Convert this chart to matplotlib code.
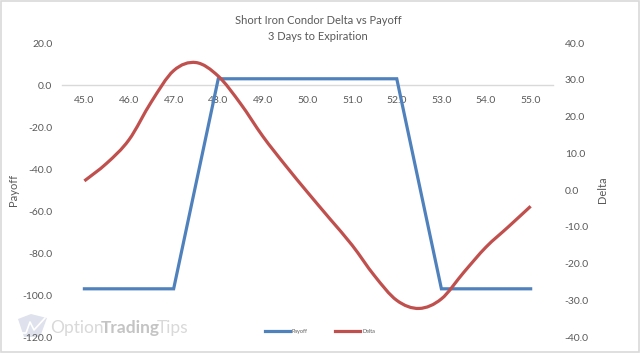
import numpy as np
import matplotlib.pyplot as plt
from matplotlib.path import Path
from matplotlib.patches import PathPatch, Rectangle, Polygon
from matplotlib.lines import Line2D

# Daten
strikes = [45.0, 46.0, 47.0, 48.0, 49.0, 50.0, 51.0, 52.0, 53.0, 54.0, 55.0]
payoff = [-97, -97, -97, 3, 3, 3, 3, 3, -97, -97, -97]

delta_x = [45.0, 45.5, 46.0, 46.5, 47.0, 47.5, 48.0, 48.5, 49.0, 49.5, 50.0,
           50.5, 51.0, 51.5, 52.0, 52.5, 53.0, 53.5, 54.0, 54.5, 55.0]
delta = [2.5, 7.3, 13.7, 24.0, 32.5, 34.7, 31.0, 23.5, 14.6, 6.8, -0.6,
         -7.8, -15.0, -23.3, -30.0, -32.2, -29.6, -22.4, -15.5, -10.0, -4.4]

tick_labels = ["45.0", "46.0", "47.0", "48.0", "49.0", "50.0",
               "51.0", "52.0", "53.0", "54.0", "55.0"]

BLUE = "#4f81bd"
RED = "#c0504d"
GREY = "#595959"
W, H = 640, 353

plt.rcParams["font.family"] = ["Lato", "DejaVu Sans"]


def smooth_path(xs, ys):
    # Excel-artige geglaettete Linie (Bezier, Catmull-Rom)
    pts = np.column_stack([xs, ys]).astype(float)
    n = len(pts)
    verts = [pts[0]]
    codes = [Path.MOVETO]
    for i in range(n - 1):
        p0 = pts[i - 1] if i > 0 else pts[i]
        p1 = pts[i]
        p2 = pts[i + 1]
        p3 = pts[i + 2] if i + 2 < n else pts[i + 1]
        c1 = p1 + (p2 - p0) / 6.0
        c2 = p2 - (p3 - p1) / 6.0
        verts += [c1, c2, p2]
        codes += [Path.CURVE4] * 3
    return Path(verts, codes)


def px(x, y):
    # Pixel (von oben links) -> Figurkoordinaten
    return (x / W, 1 - y / H)


fig = plt.figure(figsize=(6.4, 3.53), dpi=100, facecolor="white")
ax = fig.add_axes([0.097, 0.045, 0.767, 0.833])
ax2 = ax.twinx()
ax.patch.set_alpha(0)
ax2.patch.set_alpha(0)

ax.plot(strikes, payoff, color=BLUE, lw=2.3, solid_joinstyle="miter", zorder=3)
ax2.add_patch(PathPatch(smooth_path(delta_x, delta), fill=False,
                        edgecolor=RED, lw=2.3, zorder=3))

ax.set_xlim(44.5, 55.5)
ax.set_ylim(-120, 20)
ax2.set_ylim(-40, 40)
ax.set_yticks(np.arange(-120, 21, 20))
ax2.set_yticks(np.arange(-40, 41, 10))
ax.set_yticklabels([f"{v:.1f}" for v in np.arange(-120, 21, 20)])
ax2.set_yticklabels([f"{v:.1f}" for v in np.arange(-40, 41, 10)])
ax.set_xticks(strikes)
ax.set_xticklabels(tick_labels)

for a in (ax, ax2):
    for s in a.spines.values():
        s.set_visible(False)
ax.spines["bottom"].set_visible(True)
ax.spines["bottom"].set_position(("data", 0))
ax.spines["bottom"].set_color("#d9d9d9")
ax.spines["bottom"].set_linewidth(1.0)

ax.tick_params(axis="x", length=0, pad=8, labelsize=7.5, labelcolor=GREY)
ax.tick_params(axis="y", length=0, pad=7, labelsize=7.5, labelcolor=GREY)
ax2.tick_params(axis="y", length=0, pad=8.5, labelsize=7.5, labelcolor=GREY)

fig.text(0.021, 0.462, "Payoff", rotation=90, ha="center", va="center",
         fontsize=8, color=GREY)
fig.text(0.942, 0.462, "Delta", rotation=90, ha="center", va="center",
         fontsize=8, color=GREY)

fig.text(0.497, 0.943, "Short Iron Condor Delta vs Payoff", ha="center",
         va="center", fontsize=8, color=GREY)
fig.text(0.497, 0.898, "3 Days to Expiration", ha="center", va="center",
         fontsize=8, color=GREY)

# Legende
handles = [Line2D([], [], color=BLUE, lw=2.3), Line2D([], [], color=RED, lw=2.3)]
fig.legend(handles, ["Payoff", "Delta"], loc="center", ncol=2,
           bbox_to_anchor=(0.5, 0.06), frameon=False, fontsize=4,
           labelcolor=GREY, handlelength=4.5, columnspacing=5, handletextpad=0.3)

# Wasserzeichen (hinter den Achsen)
logo = Polygon([px(18, 319), px(31, 314), px(47, 318), px(40, 337), px(24, 337)],
               closed=True, transform=fig.transFigure, facecolor="#dfe2ec",
               edgecolor="none", zorder=-2)
fig.add_artist(logo)
fig.add_artist(Line2D([px(19, 0)[0], px(26, 0)[0], px(30, 0)[0], px(34, 0)[0], px(45, 0)[0]],
                      [px(0, 333)[1], px(0, 333)[1], px(0, 322)[1], px(0, 330)[1], px(0, 318)[1]],
                      transform=fig.transFigure, color="white", lw=1.2, zorder=-1))

renderer = fig.canvas.get_renderer()
x0 = 50
for part, col, wt in [("Option", "#d9d9d9", "normal"),
                      ("Trading", "#c4c4c4", "bold"),
                      ("Tips", "#d9d9d9", "normal")]:
    t = fig.text(*px(x0, 333), part, ha="left", va="baseline", fontsize=12.5,
                 color=col, fontweight=wt, zorder=-1)
    x0 += t.get_window_extent(renderer).width - 3

fig.add_artist(Rectangle((0.0015, 0.0025), 0.997, 0.995, transform=fig.transFigure,
                         fill=False, edgecolor="#d9d9d9", lw=1.2))

fig.savefig("out.png", dpi=100)
